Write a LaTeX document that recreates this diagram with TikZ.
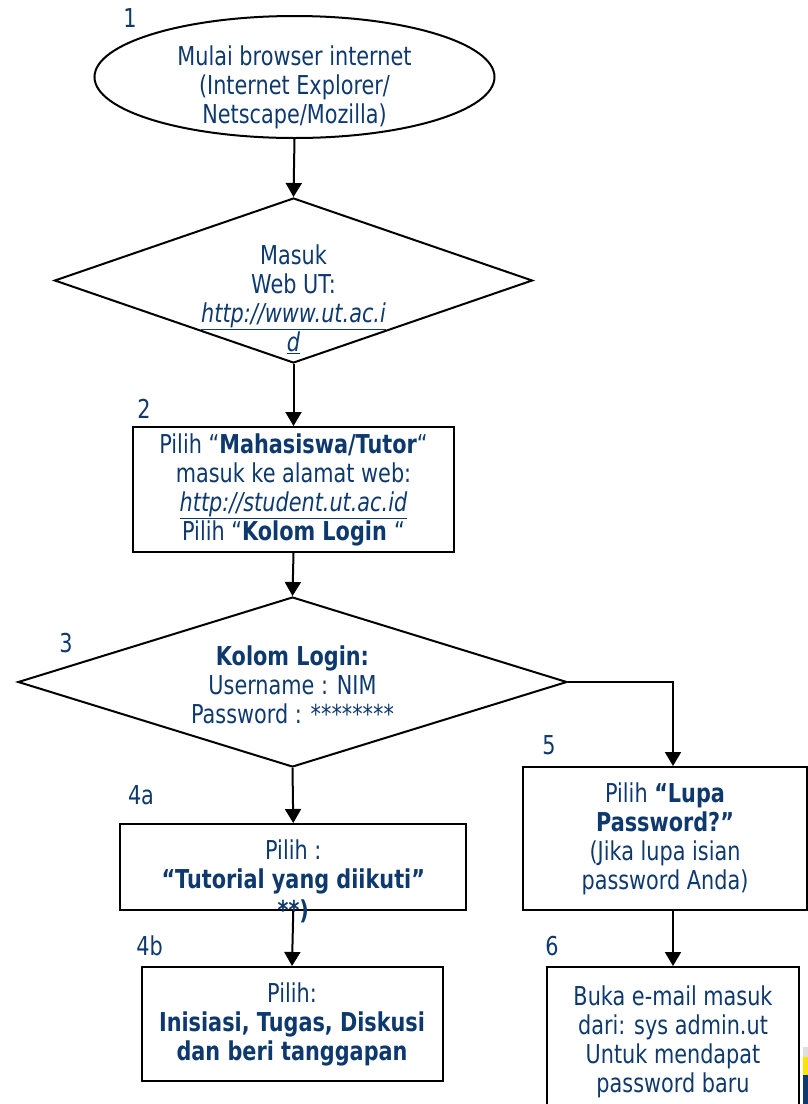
\documentclass[tikz,border=0pt]{standalone}
\usepackage{fontspec}
\setmainfont{DejaVu Sans}[FakeStretch=0.8]
\usetikzlibrary{shapes.geometric,arrows.meta}
\definecolor{utblue}{RGB}{14,57,110}
\tikzset{>={Triangle[length=14pt,width=16pt]}}
\tikzset{
  txt/.style={text=utblue,font=\fontsize{26pt}{29pt}\selectfont,align=center,inner sep=0pt},
  box/.style={txt,draw=black,rectangle},
  num/.style={text=utblue,font=\fontsize{26pt}{29pt}\selectfont}
}

\begin{document}
\begin{tikzpicture}[x=1pt,y=-1pt,line width=2pt]
\useasboundingbox (0,0) rectangle (808,1104);
\node[ellipse,draw,minimum width=400,minimum height=122] (start) at (294.5,77) {};
\node[txt] (t1) at (294.5,87) {Mulai browser internet\\(Internet Explorer/\\Netscape/Mozilla)};
\node[diamond,draw,minimum width=478,minimum height=165] (web) at (293.5,280.5) {};
\node[txt] (t2) at (293.5,299) {Masuk\\Web UT:\\\underline{\textit{http://www.ut.ac.i}}\\\underline{\textit{d}}};
\node[box,minimum width=321,minimum height=125] (pilih) at (293.5,489.5) {Pilih “\textbf{Mahasiswa/Tutor}“\\masuk ke alamat web:\\\underline{\textit{http://student.ut.ac.id}}\\Pilih “\textbf{Kolom Login }“};
\node[diamond,draw,minimum width=549,minimum height=170] (login) at (292.5,682) {};
\node[txt] (t3) at (292.5,685) {\textbf{Kolom Login:}\\Username : NIM\\Password : ********};
\node[box,minimum width=346,minimum height=86,
  label={[txt,anchor=center,font=\fontsize{26pt}{29pt}\selectfont\bfseries]south:**)}] (tutorial) at (293.25,867) {Pilih :\\\textbf{“Tutorial yang diikuti”}};
\node[box,minimum width=301,minimum height=114] (aktivitas) at (292,1024) {Pilih:\\\textbf{Inisiasi, Tugas, Diskusi}\\\textbf{dan beri tanggapan}};
\node[box,minimum width=284,minimum height=143] (lupa) at (665,838.5) {Pilih \textbf{“Lupa}\\\textbf{Password?”}\\(Jika lupa isian\\password Anda)};
\node[box,minimum width=252,minimum height=150] (email) at (673,1042) {Buka e-mail masuk\\dari: sys admin.ut\\Untuk mendapat\\password baru};
% nomor langkah
\node[num] (n1) at (130,18) {1};
\node[num] (n2) at (144,409) {2};
\node[num] (n3) at (66,643) {3};
\node[num] (n4a) at (141,795) {4a};
\node[num] (n4b) at (149.5,946) {4b};
\node[num] (n5) at (549,745) {5};
\node[num] (n6) at (552,946) {6};
\draw[->] (start.south) -- (web.north);
\draw[->] (web.south) -- (pilih.north);
\draw[->] (pilih.south) -- (login.north);
\draw[->] (login.south) -- (tutorial.north);
\draw[->] (tutorial.south) -- (aktivitas.north);
\draw[->] (login.east) -| (email.north |- lupa.north);
\draw[->] (email.north |- lupa.south) -- (email.north);
% potongan logo
\fill[gray!25] (803,1047) rectangle (808,1057);
\fill[yellow!85!orange] (803,1057) rectangle (808,1075);
\fill[utblue] (803,1075) rectangle (808,1104);
\end{tikzpicture}
\end{document}
